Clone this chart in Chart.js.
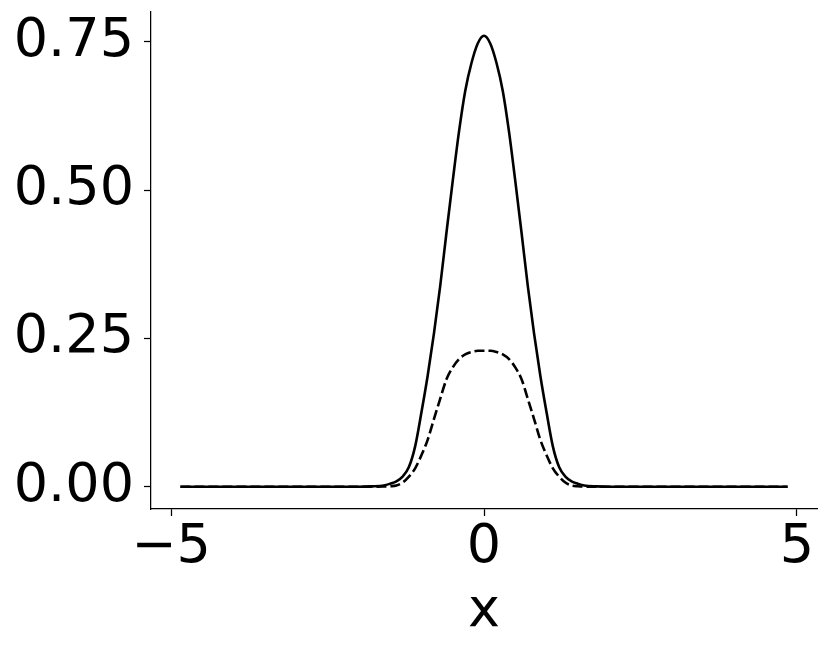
<!DOCTYPE html>
<html>
<head>
<meta charset="utf-8">
<script src="https://cdn.jsdelivr.net/npm/chart.js@4/dist/chart.umd.min.js"></script>
<style>
  html, body { margin: 0; padding: 0; background: #fff; }
  canvas { display: block; }
</style>
</head>
<body>
<canvas id="c" width="831" height="652"></canvas>
<script>
// x positions (symmetric) and read-off values
const xValues = [-4.85, -3, -2, -1.8, -1.6, -1.5, -1.4, -1.3, -1.2, -1.1, -1.0, -0.9, -0.8, -0.7, -0.6, -0.5, -0.4, -0.3, -0.2, -0.1, 0,
                 0.1, 0.2, 0.3, 0.4, 0.5, 0.6, 0.7, 0.8, 0.9, 1.0, 1.1, 1.2, 1.3, 1.4, 1.5, 1.6, 1.8, 2, 3, 4.85];
const solidValues = [0, 0, 0, 0.0005, 0.002, 0.005, 0.009, 0.017, 0.033, 0.068, 0.125, 0.187, 0.258, 0.338, 0.428, 0.515, 0.598, 0.667, 0.714, 0.747, 0.760,
                     0.747, 0.714, 0.667, 0.598, 0.515, 0.428, 0.338, 0.258, 0.187, 0.125, 0.068, 0.033, 0.017, 0.009, 0.005, 0.002, 0.0005, 0, 0, 0];
const dashedValues = [0, 0, 0, 0, 0.0003, 0.0008, 0.002, 0.007, 0.017, 0.031, 0.053, 0.079, 0.114, 0.148, 0.181, 0.201, 0.215, 0.223, 0.227, 0.229, 0.229,
                      0.229, 0.227, 0.223, 0.215, 0.201, 0.181, 0.148, 0.114, 0.079, 0.053, 0.031, 0.017, 0.007, 0.002, 0.0008, 0.0003, 0, 0, 0, 0];
const xTicks = [-5, 0, 5];
const yTicks = [0, 0.25, 0.5, 0.75];
const xLabel = 'x';

const toPts = (vals) => xValues.map((x, i) => ({ x: x, y: vals[i] }));
const FONT = "'DejaVu Sans', sans-serif";

new Chart(document.getElementById('c'), {
  type: 'line',
  data: {
    datasets: [
      { data: toPts(solidValues), borderColor: '#000', borderWidth: 2.6, pointRadius: 0, fill: false, cubicInterpolationMode: 'monotone' },
      { data: toPts(dashedValues), borderColor: '#000', borderWidth: 2.6, borderDash: [10, 4], pointRadius: 0, fill: false, cubicInterpolationMode: 'monotone' }
    ]
  },
  options: {
    responsive: false,
    animation: false,
    layout: { padding: { top: 12, right: 14, left: 0, bottom: 0 } },
    plugins: { legend: { display: false }, tooltip: { enabled: false } },
    scales: {
      x: {
        type: 'linear',
        min: -5.32, max: 5.32,
        afterBuildTicks: (s) => { s.ticks = xTicks.map(v => ({ value: v })); },
        afterFit: (s) => { s.height = 143; s.paddingLeft = 0; s.paddingRight = 0; },
        ticks: {
          color: '#000', font: { family: FONT, size: 54 }, padding: 0, maxRotation: 0,
          callback: (v) => (v < 0 ? '\u2212' + Math.abs(v) : String(v))
        },
        grid: { display: true, drawOnChartArea: false, drawTicks: true, tickLength: 7, tickWidth: 1.25, tickColor: '#000' },
        border: { display: true, color: '#000', width: 1.25 },
        title: { display: true, text: xLabel, color: '#000', font: { family: FONT, size: 54 }, padding: { top: 0, bottom: 8 } }
      },
      y: {
        type: 'linear',
        min: -0.0376, max: 0.80,
        afterBuildTicks: (s) => { s.ticks = yTicks.map(v => ({ value: v })); },
        afterFit: (s) => { s.width = 151; s.paddingTop = 0; s.paddingBottom = 0; },
        ticks: {
          color: '#000', font: { family: FONT, size: 54 }, padding: 10,
          callback: (v) => Number(v).toFixed(2)
        },
        grid: { display: true, drawOnChartArea: false, drawTicks: true, tickLength: 7, tickWidth: 1.25, tickColor: '#000' },
        border: { display: true, color: '#000', width: 1.25 }
      }
    }
  }
});
</script>
</body>
</html>
